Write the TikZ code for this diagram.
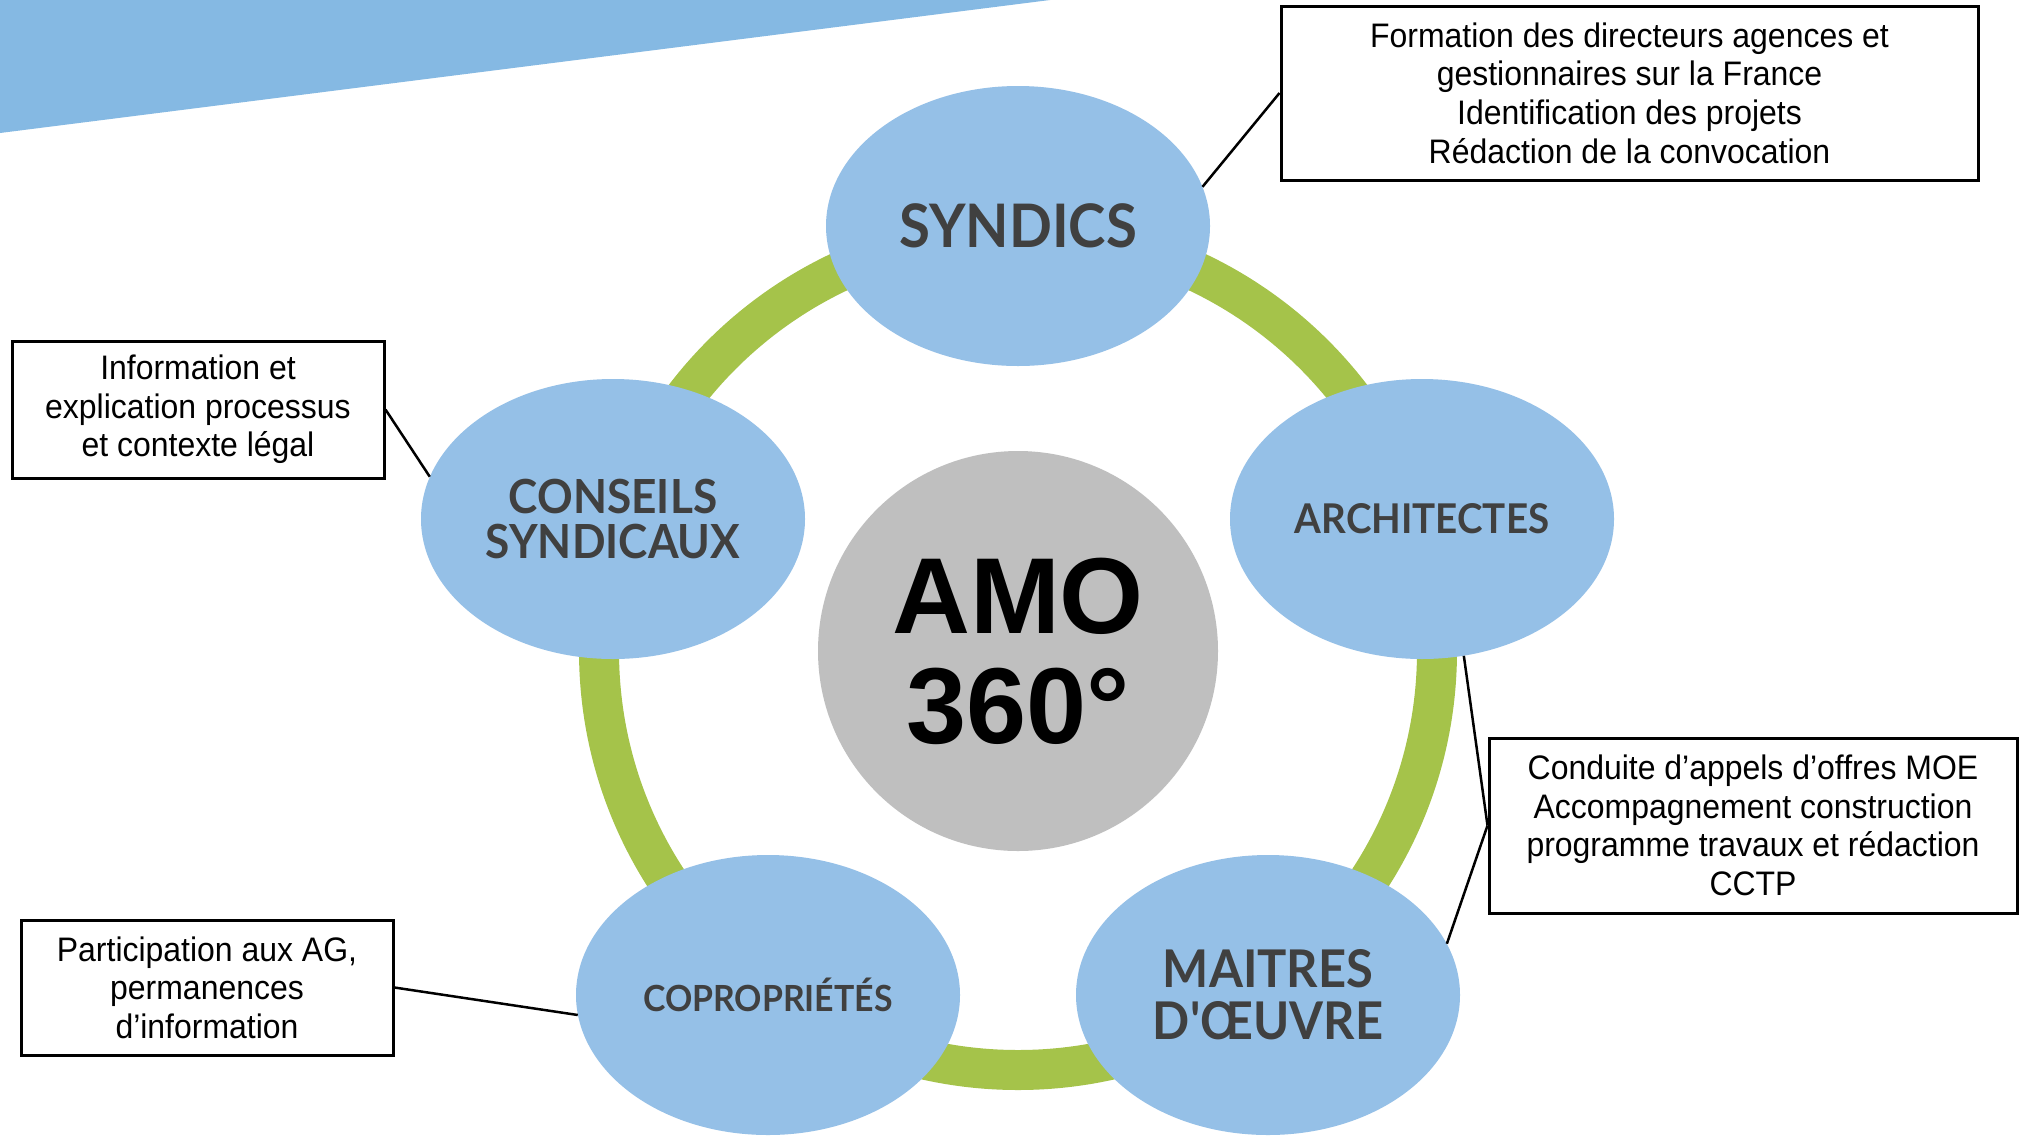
\documentclass[tikz,border=0pt]{standalone}
\usepackage{fontspec}
\setmainfont{Liberation Sans}
\newfontfamily\boxfont{Liberation Sans}[FakeStretch=0.94]
\newfontfamily\labfont{Lato}[FakeStretch=0.94]
\usetikzlibrary{shapes.geometric}
\definecolor{bannerc}{HTML}{85B9E3}
\definecolor{ellc}{HTML}{95C0E7}
\definecolor{ringc}{HTML}{A5C34A}
\definecolor{amoc}{HTML}{BFBFBF}
\definecolor{labc}{HTML}{404040}
\begin{document}
\begin{tikzpicture}[x=1pt,y=-1pt,
  bubble/.style={ellipse, fill=ellc, minimum width=384pt, minimum height=280pt, inner sep=0pt, text=labc, align=center},
  infobox/.style={draw=black, line width=3pt, fill=white, align=center, inner sep=0pt, font=\boxfont\fontsize{34}{38.6}\selectfont},
  link/.style={line width=2.5pt, draw=black}]
\fill[white] (0,0) rectangle (2020,1136);
\useasboundingbox (0,0) rectangle (2020,1136);
\fill[bannerc] (0,0) -- (1050,0) -- (0,133) -- cycle;
\coordinate (ctr) at (1018,651);
\draw[ringc, line width=40pt] (ctr) circle[radius=419];
\node[circle, fill=amoc, minimum size=400pt, inner sep=0pt, align=center,
  font=\bfseries\fontsize{108}{110}\selectfont] (amo) at (1018,651) {AMO\\360°};
% info boxes
\node[infobox, minimum width=697pt, minimum height=174pt] (b1) at (1629.5,93)
  {Formation des directeurs agences et\\gestionnaires sur la France\\Identification des projets\\Rédaction de la convocation};
\node[infobox, minimum width=372pt, minimum height=137pt] (b2) at (198,409.5)
  {Information et\\explication processus\\et contexte légal};
\node[infobox, minimum width=528pt, minimum height=175pt] (b3) at (1753,825.5)
  {Conduite d’appels d’offres MOE\\Accompagnement construction\\programme travaux et rédaction\\CCTP};
\node[infobox, minimum width=372pt, minimum height=135pt] (b4) at (207,987.5)
  {Participation aux AG,\\permanences\\d’information};
% bubbles
\node[bubble, font=\labfont\bfseries\fontsize{60}{60}\selectfont] (syn) at (1018,226) {SYNDICS};
\node[bubble, font=\labfont\bfseries\fontsize{47}{45}\selectfont] (con) at (613,519) {CONSEILS\\SYNDICAUX};
\node[bubble, font=\labfont\bfseries\fontsize{41}{45}\selectfont] (arc) at (1422,519) {ARCHITECTES};
\node[bubble, font=\labfont\bfseries\fontsize{36}{40}\selectfont] (cop) at (768,995) {COPROPRIÉTÉS};
\node[bubble, font=\labfont\bfseries\fontsize{52}{52}\selectfont] (moe) at (1268,995) {MAITRES\\D'ŒUVRE};
% connectors
\draw[link] (b1.west) -- (syn.12);
\draw[link] (b2.east) -- (con.167);
\draw[link] (b3.west) -- (arc.-73);
\draw[link] (b3.west) -- (moe.16);
\draw[link] (b4.east) -- (cop.186);
\end{tikzpicture}
\end{document}
